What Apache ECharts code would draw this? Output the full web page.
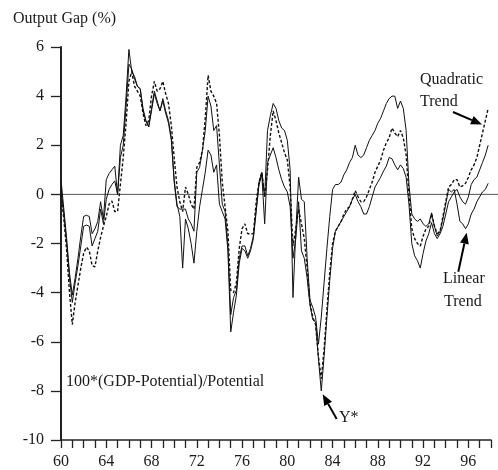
<!DOCTYPE html>
<html>
<head>
<meta charset="utf-8">
<script src="https://cdn.jsdelivr.net/npm/echarts@6/dist/echarts.min.js"></script>
<style>
html,body{margin:0;padding:0;background:#fff;}
#chart{width:498px;height:470px;}
</style>
</head>
<body>
<div id="chart"></div>
<script>
// Quarterly output gap estimates, 1960Q1 - 1997Q4
var startYear = 60;
var yTicks = [-10, -8, -6, -4, -2, 0, 2, 4, 6];
var xLabelYears = [60, 64, 68, 72, 76, 80, 84, 88, 92, 96];

var linearTrend = [
  0.6, -0.6, -1.8, -3.2,   -4.1, -3.4, -2.6, -1.7,   -0.9, -0.85, -0.9, -1.6,   -1.4, -1.1, -0.3, -1.0,
  0.6, 0.85, 1.0, 1.15,    0.0, 2.0, 2.4, 4.0,       5.9, 5.0, 4.8, 4.4,        4.3, 3.4, 3.0, 2.75,
  3.5, 4.2, 3.8, 3.4,      3.9, 3.4, 3.0, 2.3,       0.5, -0.5, -0.6, -0.6,     -0.6, -1.0, -1.2, -1.5,
  0.9, 1.1, 1.8, 2.6,      4.0, 3.6, 2.6, 2.8,       1.2, -0.4, -0.7, -2.1,     -4.9, -4.2, -3.9, -2.6,
  -2.1, -2.1, -2.5, -2.2,  -1.7, -0.6, 0.5, 0.9,     -0.1, 2.6, 3.2, 3.7,       3.5, 3.0, 2.7, 2.6,
  2.2, 1.0, -4.2, -1.5,    0.7, -0.2, -0.3, -2.6,    -4.3, -4.6, -5.0, -6.1,    -5.0, -3.6, -2.2, -0.9,
  0.2, 0.4, 0.4, 0.5,      0.8, 1.0, 1.3, 1.5,       2.0, 1.6, 1.5, 1.6,        1.9, 2.2, 2.4, 2.6,
  2.9, 3.1, 3.4, 3.7,      3.9, 4.0, 4.0, 3.5,       3.8, 3.5, 2.6, 0.4,        -0.8, -1.0, -1.1, -1.0,
  -1.2, -1.3, -1.2, -0.75, -1.3, -1.7, -1.5, -1.0,   -0.4, 0.2, 0.1, 0.2,       -0.4, -1.1, -1.2, -1.4,
  -1.2, -0.8, -0.6, -0.3,  -0.1, 0.1, 0.2, 0.45
];

var yStar = [
  0.2, -0.8, -2.0, -3.4,   -4.4, -3.6, -2.9, -2.1,   -1.3, -1.25, -1.3, -2.1,   -1.8, -1.5, -0.6, -1.2,
  -0.2, 0.2, 0.4, 0.55,    0.0, 1.5, 2.0, 3.6,       5.3, 5.1, 4.7, 4.4,        4.3, 3.5, 3.0, 2.75,
  3.4, 4.1, 3.7, 3.4,      3.8, 3.3, 2.9, 2.2,       0.6, -0.4, -0.9, -3.0,     -1.0, -1.4, -2.0, -2.8,
  -1.5, -0.5, 0.2, 0.9,    1.8, 1.6, 0.9, 1.2,       -0.4, -0.7, -1.0, -2.3,    -5.6, -4.8, -4.1, -2.8,
  -2.2, -2.3, -2.6, -2.3,  -1.8, -0.7, 0.4, 0.8,     -1.2, 1.3, 1.6, 1.9,       1.5, 1.0, 0.6, 0.3,
  0.1, -0.5, -2.6, -1.8,   -0.3, -2.3, -2.6, -3.4,   -4.5, -5.1, -5.2, -6.7,    -8.0, -6.6, -5.0, -3.5,
  -2.2, -1.5, -1.3, -1.1,  -0.9, -0.7, -0.5, -0.2,   0.0, -0.3, -0.5, -0.8,     -0.8, -0.5, -0.1, 0.3,
  0.5, 0.7, 0.95, 1.15,    1.5, 1.45, 1.2, 1.0,      1.2, 1.05, 0.7, -0.4,      -2.0, -2.5, -2.7, -3.0,
  -2.4, -1.9, -1.6, -1.15, -1.6, -1.8, -1.6, -1.3,   -0.8, -0.3, -0.1, 0.1,     0.2, -0.1, -0.3, -0.4,
  -0.1, 0.4, 0.6, 0.7,     1.0, 1.3, 1.6, 2.0
];

var quadraticTrend = [
  0.0, -1.0, -2.3, -4.0,   -5.3, -4.4, -3.7, -3.0,   -2.4, -2.15, -2.3, -2.9,   -2.95, -2.3, -1.75, -1.3,
  -0.9, -0.4, -0.27, -0.7, -0.7, 0.4, 1.5, 2.9,      4.6, 5.0, 4.4, 4.2,        4.0, 3.3, 2.8, 3.0,
  4.0, 4.6, 4.2, 4.3,      4.6, 4.1, 3.7, 2.8,       1.5, 0.3, -0.3, -0.7,      0.3, 0.0, -0.4, -0.6,
  1.1, 1.3, 1.8, 3.1,      4.85, 4.2, 4.0, 3.7,      2.4, 0.5, -0.5, -1.5,      -3.9, -4.0, -3.6, -2.2,
  -1.4, -1.2, -1.6, -1.6,  -1.6, -0.3, 0.5, 0.9,     -0.1, 1.0, 2.4, 3.4,       3.0, 2.5, 2.1, 1.7,
  1.4, 0.3, -2.1, -1.4,    -0.6, -1.2, -1.8, -3.0,   -4.4, -5.0, -5.3, -6.6,    -7.5, -6.3, -4.7, -3.2,
  -2.0, -1.5, -1.3, -1.1,  -0.8, -0.6, -0.5, -0.2,   0.15, -0.1, -0.3, -0.3,    -0.1, 0.2, 0.5, 0.9,
  1.15, 1.4, 1.8, 2.1,     2.3, 2.7, 2.5, 2.35,      2.6, 2.3, 1.6, 0.0,        -1.4, -1.8, -2.0, -2.1,
  -1.7, -1.4, -1.3, -0.8,  -1.3, -1.6, -1.5, -0.9,   -0.3, 0.3, 0.4, 0.6,       0.6, 0.3, 0.35, 0.45,
  0.7, 1.0, 1.2, 1.5,      2.0, 2.5, 3.0, 3.5
];

function toPoints(arr) {
  return arr.map(function (v, i) { return [startYear + i / 4, v]; });
}

var FONT = 'Liberation Serif';
var TXT = '#1a1a1a';

var chart = echarts.init(document.getElementById('chart'), null, {renderer: 'canvas'});

var option = {
  animation: false,
  backgroundColor: '#fff',
  grid: {left: 61, right: 7, top: 47, bottom: 29, containLabel: false},
  xAxis: {
    type: 'value', min: 60, max: 98, interval: 1,
    splitLine: {show: false},
    axisLine: {onZero: false, lineStyle: {color: '#222', width: 1.6}},
    axisTick: {show: true, length: 8, inside: false, lineStyle: {color: '#222', width: 1.3}},
    axisLabel: {
      margin: 14, color: TXT, fontFamily: FONT, fontSize: 16,
      formatter: function (v) { return xLabelYears.indexOf(v) >= 0 ? String(v) : ''; }
    }
  },
  yAxis: {
    type: 'value', min: yTicks[0], max: yTicks[yTicks.length - 1], interval: 2,
    splitLine: {show: false},
    axisLine: {show: true, lineStyle: {color: '#222', width: 2}},
    axisTick: {show: true, length: 10, lineStyle: {color: '#222', width: 1.3}},
    axisLabel: {margin: 17, color: TXT, fontFamily: FONT, fontSize: 16}
  },
  series: [
    {name: 'Linear Trend', type: 'line', data: toPoints(linearTrend), symbol: 'none',
     lineStyle: {color: '#111', width: 1}, z: 3},
    {name: 'Y*', type: 'line', data: toPoints(yStar), symbol: 'none',
     lineStyle: {color: '#111', width: 1}, z: 3},
    {name: 'Quadratic Trend', type: 'line', data: toPoints(quadraticTrend), symbol: 'none',
     lineStyle: {color: '#111', width: 1.4, type: [3, 2]}, z: 4}
  ]
};
chart.setOption(option);

var y0 = chart.convertToPixel({yAxisIndex: 0}, 0);
var x0 = chart.convertToPixel({xAxisIndex: 0}, 60);

function arrow(tail, tip, len, hw) {
  var dx = tip[0] - tail[0], dy = tip[1] - tail[1];
  var L = Math.sqrt(dx * dx + dy * dy);
  var ux = dx / L, uy = dy / L;
  var bx = tip[0] - len * ux, by = tip[1] - len * uy;
  var px = -uy, py = ux;
  return [
    {type: 'line', shape: {x1: tail[0], y1: tail[1], x2: bx, y2: by},
     style: {stroke: '#000', lineWidth: 2}, z: 10},
    {type: 'polygon', shape: {points: [[tip[0], tip[1]], [bx + hw * px, by + hw * py], [bx - hw * px, by - hw * py]]},
     style: {fill: '#000'}, z: 10}
  ];
}

function txt(s, x, y) {
  return {type: 'text', left: x, top: y - 7, z: 10,
    style: {text: s, fill: TXT, font: '16px "' + FONT + '"', textVerticalAlign: 'top'}};
}

var g = [
  {type: 'line', shape: {x1: x0, y1: y0, x2: 498, y2: y0}, style: {stroke: '#555', lineWidth: 1}, z: 2},
  txt('Output Gap (%)', 13, 18),
  txt('Quadratic', 420, 79),
  txt('Trend', 420, 101),
  txt('Linear', 443, 278),
  txt('Trend', 444, 301),
  txt('Y*', 339, 417),
  txt('100*(GDP-Potential)/Potential', 66, 381)
];
g = g.concat(arrow([453, 112], [482, 124.5], 11, 4.5));
g = g.concat(arrow([458.3, 271.7], [466.7, 232.7], 11, 4.5));
g = g.concat(arrow([336.7, 419], [322.7, 394.3], 11, 4.5));

chart.setOption({graphic: g});
</script>
</body>
</html>
